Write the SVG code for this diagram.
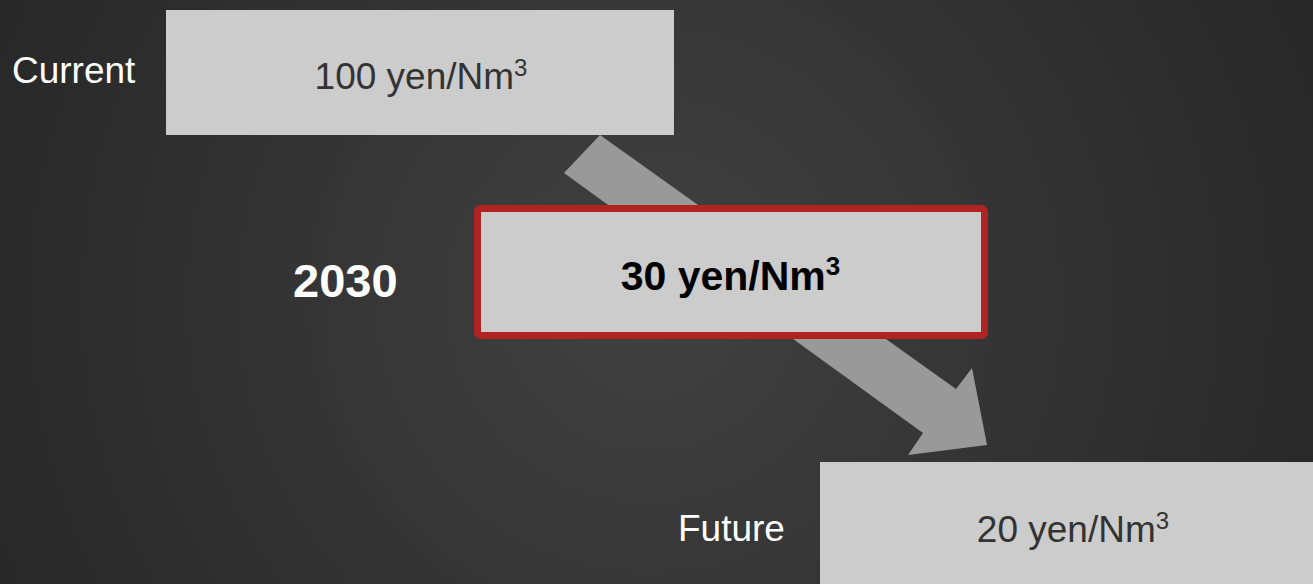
<svg xmlns="http://www.w3.org/2000/svg" width="1313" height="584" viewBox="0 0 1313 584">
<defs>
<radialGradient id="bg" cx="650" cy="300" r="750" gradientUnits="userSpaceOnUse">
<stop offset="0" stop-color="#414141"/>
<stop offset="1" stop-color="#262626"/>
</radialGradient>
<style>
.box{fill:#cccccc}
.lbl{font-family:"Liberation Sans",Arial,sans-serif;fill:#ffffff}
.val{font-family:"Liberation Sans",Arial,sans-serif;fill:#333333;text-anchor:middle}
</style>
</defs>
<rect width="1313" height="584" fill="url(#bg)"/>
<g id="connectors">
<polygon points="600,135 956,389 972,368 987,445 908,455 923,433 564,173" fill="#999999"/>
</g>
<g id="current">
<rect class="box" x="166" y="10" width="508" height="125"/>
<text class="lbl" x="12" y="83" font-size="37">Current</text>
<text class="val" x="421" y="88.5" font-size="37">100 yen/Nm<tspan font-size="24" dy="-13">3</tspan></text>
</g>
<g id="y2030">
<rect x="477.5" y="208.5" width="507" height="127" rx="3" fill="#cccccc" stroke="#b02323" stroke-width="7"/>
<text class="lbl" x="293" y="297" font-size="47" font-weight="bold">2030</text>
<text x="730.5" y="290" font-family="Liberation Sans,Arial,sans-serif" font-size="41" font-weight="bold" fill="#000" text-anchor="middle">30 yen/Nm<tspan font-size="26" dy="-15">3</tspan></text>
</g>
<g id="future">
<rect class="box" x="820" y="462" width="493" height="122"/>
<text class="lbl" x="678" y="540.5" font-size="37">Future</text>
<text class="val" x="1073" y="541.5" font-size="37">20 yen/Nm<tspan font-size="24" dy="-13">3</tspan></text>
</g>
</svg>
